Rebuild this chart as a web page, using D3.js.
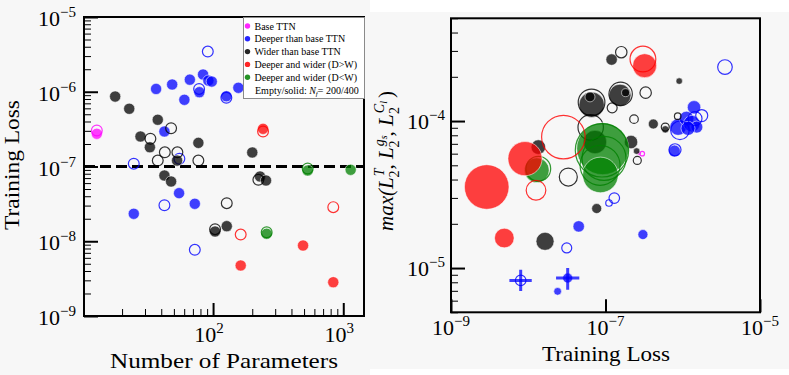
<!DOCTYPE html>
<html>
<head>
<meta charset="utf-8">
<script src="https://cdn.jsdelivr.net/npm/d3@7"></script>
<style>
  body { margin: 0; background: #fff; }
  svg text { font-family: "Liberation Serif", "Times New Roman", serif; fill: #000; }
</style>
</head>
<body>
<svg id="chart" width="789" height="375"></svg>
<script>
// ---- Left panel data: [number of parameters, training loss] ----
const baseSolidL = [[12.8, 2.74e-7]];
const baseEmptyL = [[12.8, 3.03e-7]];
const deeperSolidL = [[36.5, 1.09e-6], [48.5, 1.25e-6], [66.3, 1.45e-6], [60.2, 7.8e-7], [83.8, 1.70e-6],
  [92.0, 1.41e-6], [97.7, 1.37e-6], [78.5, 9.86e-7], [126.5, 8.71e-7], [156.4, 1.13e-6],
  [42.3, 2.94e-7], [54.8, 4.4e-8], [72.4, 3.17e-8], [24.6, 2.33e-8]];
const deeperEmptyL = [[91.1, 3.45e-6], [78.1, 1.09e-6], [126.5, 8.3e-7], [24.6, 1.09e-7], [55.1, 1.27e-7],
  [42.3, 3.03e-8], [72.4, 7.69e-9]];
const widerSolidL = [[17.7, 8.63e-7], [22.7, 5.92e-7], [37.6, 4.22e-7], [27.7, 2.52e-7], [32.7, 1.81e-7],
  [52.9, 1.2e-7], [77.1, 2.07e-7], [42.3, 7.58e-8], [47.6, 6.3e-8], [200, 1.54e-7],
  [103.6, 1.35e-8], [127.4, 1.59e-8], [229.5, 7.35e-8], [255, 6.5e-8]];
const widerEmptyL = [[47.6, 3.25e-7], [33.0, 2.35e-7], [42.6, 1.55e-7], [37.6, 1.2e-7], [53.2, 1.55e-7],
  [77.1, 1.2e-7], [127.4, 3.23e-8], [103.6, 1.45e-8], [222.8, 6.64e-8]];
const dwSolidL = [[242, 3.19e-7], [491, 8.77e-9], [163, 4.74e-9], [838, 2.83e-9]];
const dwEmptyL = [[242, 2.94e-7], [163, 1.23e-8], [838, 2.86e-8]];
const wdSolidL = [[533, 8.84e-8], [1140, 9.04e-8], [258, 1.26e-8]];
const wdEmptyL = [[533, 9.4e-8], [258, 1.32e-8]];

// ---- Right panel data: [training loss, max L2, number of parameters] ----
const baseSolidR = [[2.72e-7, 6.05e-5, 7]];
const baseEmptyR = [[2.99e-7, 6.0e-5, 9]];
const deeperSolidR = [[7.8e-7, 6.25e-5, 60], [8.7e-7, 9.1e-5, 116], [1.12e-6, 1.04e-4, 90],
  [1.31e-6, 9.6e-5, 116], [1.4e-6, 1.24e-4, 76], [1.52e-6, 9.1e-5, 61], [1.17e-6, 8.92e-5, 83],
  [4.5e-8, 1.92e-5, 55], [3.05e-7, 1.69e-5, 42], [2.4e-8, 6.94e-6, 25], [3.24e-8, 8.55e-6, 42]];
const deeperEmptyR = [[1.76e-6, 1.09e-4, 61], [9.2e-7, 8.65e-5, 146], [7.94e-7, 6.38e-5, 61],
  [1.44e-6, 1.04e-4, 83], [3.52e-6, 2.33e-4, 90], [1.3e-7, 2.99e-5, 47], [1.11e-7, 2.77e-5, 18],
  [3.15e-8, 1.37e-5, 42], [7.98e-9, 8.24e-6, 47]];
const widerSolidR = [[1.2e-7, 2.62e-4, 55], [6.62e-8, 1.29e-4, 272], [6.3e-8, 1.46e-4, 42],
  [1.54e-7, 1.5e-4, 204], [1.82e-7, 1.56e-4, 27], [4.16e-7, 9.55e-5, 42], [5.94e-7, 8.78e-5, 23],
  [9.0e-7, 1.87e-4, 18], [2.14e-7, 7.2e-5, 76], [2.53e-7, 6.25e-5, 18], [1.35e-8, 6.65e-5, 90],
  [7.69e-8, 2.54e-5, 42], [1.65e-8, 1.52e-5, 137], [7.31e-8, 7.2e-5, 231]];
const widerEmptyR = [[1.6e-7, 2.94e-4, 55], [6.6e-8, 1.34e-4, 300], [6.43e-8, 9.06e-5, 272],
  [1.57e-7, 1.53e-4, 231], [3.31e-7, 1.56e-4, 55], [1.22e-7, 1.23e-4, 42], [2.34e-7, 1.03e-4, 31],
  [5.94e-7, 9.1e-5, 27], [8.6e-7, 1.08e-4, 18], [2.58e-7, 5.4e-5, 27], [3.3e-8, 4.16e-5, 137]];
const dwSolidR = [[2.9e-9, 3.56e-5, 838], [9.08e-9, 5.55e-5, 491], [4.9e-9, 1.6e-5, 163], [3.21e-7, 2.38e-4, 242]];
const dwEmptyR = [[2.85e-8, 7.78e-5, 800], [1.26e-8, 3.38e-5, 163], [3.05e-7, 2.64e-4, 280]];
const wdSolidR = [[9.2e-8, 6.49e-5, 1140], [8.6e-8, 4.3e-5, 533], [1.29e-8, 4.63e-5, 258]];
const wdEmptyR = [[9.0e-8, 6.32e-5, 1200], [8.5e-8, 5.0e-5, 675], [9.57e-8, 5.57e-5, 816], [1.35e-8, 4.74e-5, 258]];

// Error bars (blue, right panel): centre, loss range, maxL2 range.
const crossCenter = [[7.98e-9, 8.24e-6], [3.24e-8, 8.55e-6]];
const crossLoss = [[5.7e-9, 1.11e-8], [2.29e-8, 4.58e-8]];
const crossMaxL = [[6.98e-6, 9.75e-6], [7.13e-6, 1.0e-5]];

const legendLabels = ['Base TTN', 'Deeper than base TTN', 'Wider than base TTN',
  'Deeper and wider (D>W)', 'Deeper and wider (D<W)'];
const groupColors = ['#ff00ff', '#0000ff', '#000000', '#ff0000', '#008000'];

const leftYTicks = [1e-5, 1e-6, 1e-7, 1e-8, 1e-9];
const leftXTicks = [1e2, 1e3];
const rightXTicks = [1e-9, 1e-7, 1e-5];
const rightYTicks = [1e-4, 1e-5];
const threshold = 1e-7;

// Groups in legend order; right panel draws green before red.
const groups = [
  {c: groupColors[0], ls: baseSolidL, le: baseEmptyL, rs: baseSolidR, re: baseEmptyR},
  {c: groupColors[1], ls: deeperSolidL, le: deeperEmptyL, rs: deeperSolidR, re: deeperEmptyR},
  {c: groupColors[2], ls: widerSolidL, le: widerEmptyL, rs: widerSolidR, re: widerEmptyR},
  {c: groupColors[3], ls: dwSolidL, le: dwEmptyL, rs: dwSolidR, re: dwEmptyR},
  {c: groupColors[4], ls: wdSolidL, le: wdEmptyL, rs: wdSolidR, re: wdEmptyR}
];

const svg = d3.select('#chart');

// Backgrounds.
svg.append('rect').attr('width', 789).attr('height', 375).attr('fill', '#f7f7f7');
svg.append('rect').attr('x', 370).attr('y', 0).attr('width', 419).attr('height', 12).attr('fill', '#fff');
svg.append('rect').attr('x', 370).attr('y', 369).attr('width', 419).attr('height', 6).attr('fill', '#fff');

// Scales.
const xL = d3.scaleLog().domain([10.2, 1443]).range([84, 364]);
const yL = d3.scaleLog().domain([1e-9, 1e-5]).range([316, 17]);
const xR = d3.scaleLog().domain([1e-9, 1e-5]).range([451, 760]);
const yR = d3.scaleLog().domain([5e-6, 5e-4]).range([312.3, 18.3]);
const rR = d3.scaleSqrt().domain([0, 1000]).range([0, 24.35]);

const isPow = v => Math.abs(Math.log10(v) - Math.round(Math.log10(v))) < 1e-6;

function tickLines(g, axis, values, len, w) {
  g.call(axis.tickValues(values).tickSize(-len).tickFormat(''))
    .call(s => s.select('.domain').remove())
    .selectAll('line').attr('stroke', '#000').attr('stroke-width', w);
}

function powLabel(g, x, y, v, anchor) {
  const e = Math.round(Math.log10(v));
  const t = g.append('text').attr('x', x).attr('y', y)
    .attr('text-anchor', anchor).attr('font-size', 22);
  t.append('tspan').text('10');
  t.append('tspan').attr('font-size', 15).attr('dy', -9)
    .text(e < 0 ? '\u2212' + (-e) : String(e));
}

function solid(g, data, fx, fy, fr, color) {
  g.selectAll(null).data(data).join('circle')
    .attr('cx', d => fx(d)).attr('cy', d => fy(d)).attr('r', d => fr(d))
    .attr('fill', color).attr('fill-opacity', 0.75)
    .attr('stroke', '#fff').attr('stroke-width', 0.7).attr('stroke-opacity', 0.8);
}

function empty(g, data, fx, fy, fr, color) {
  g.selectAll(null).data(data).join('circle')
    .attr('cx', d => fx(d)).attr('cy', d => fy(d)).attr('r', d => fr(d))
    .attr('fill', 'none').attr('stroke', color).attr('stroke-opacity', 0.8)
    .attr('stroke-width', 1.2);
}

// ================= Left panel =================
const left = svg.append('g');

// Threshold line.
left.append('line')
  .attr('x1', xL.range()[0]).attr('x2', xL.range()[1])
  .attr('y1', yL(threshold)).attr('y2', yL(threshold))
  .attr('stroke', '#000').attr('stroke-width', 3).attr('stroke-dasharray', '11,5');

const ptsL = left.append('g');
groups.forEach(gr => {
  solid(ptsL, gr.ls, d => xL(d[0]), d => yL(d[1]), () => 5.6, gr.c);
  empty(ptsL, gr.le, d => xL(d[0]), d => yL(d[1]), () => 5.4, gr.c);
});

// Ticks (inward).
tickLines(left.append('g').attr('transform', `translate(${xL.range()[0]},0)`),
  d3.axisLeft(yL), yL.ticks().filter(v => !isPow(v)), 7, 1);
tickLines(left.append('g').attr('transform', `translate(${xL.range()[0]},0)`),
  d3.axisLeft(yL), leftYTicks, 14, 2);
tickLines(left.append('g').attr('transform', `translate(0,${yL.range()[0]})`),
  d3.axisBottom(xL), xL.ticks().filter(v => !isPow(v)), 7, 1);
tickLines(left.append('g').attr('transform', `translate(0,${yL.range()[0]})`),
  d3.axisBottom(xL), leftXTicks, 13, 2);

left.append('rect')
  .attr('x', xL.range()[0]).attr('y', yL.range()[1])
  .attr('width', xL.range()[1] - xL.range()[0]).attr('height', yL.range()[0] - yL.range()[1])
  .attr('fill', 'none').attr('stroke', '#000').attr('stroke-width', 2);

leftYTicks.forEach(v => powLabel(left, 76, yL(v) + 9, v, 'end'));
leftXTicks.forEach(v => powLabel(left, xL(v) - 4, 342, v, 'middle'));

left.append('text').attr('x', 224).attr('y', 368).attr('text-anchor', 'middle')
  .attr('font-size', 22).attr('textLength', 228).attr('lengthAdjust', 'spacingAndGlyphs')
  .text('Number of Parameters');
left.append('text').attr('transform', 'translate(19,165) rotate(-90)').attr('text-anchor', 'middle')
  .attr('font-size', 21).attr('textLength', 130).attr('lengthAdjust', 'spacingAndGlyphs')
  .text('Training Loss');

// Legend.
const leg = left.append('g');
leg.append('rect').attr('x', 243.5).attr('y', 17.5).attr('width', 121).attr('height', 81)
  .attr('fill', '#fff').attr('stroke', '#8a8a8a').attr('stroke-width', 1);
legendLabels.forEach((lab, i) => {
  const cy = 26 + i * 12.8;
  leg.append('circle').attr('cx', 247.5).attr('cy', cy).attr('r', 2.7)
    .attr('fill', groupColors[i]).attr('fill-opacity', 0.85);
  leg.append('text').attr('x', 254.5).attr('y', cy + 3.5).attr('font-size', 10).text(lab);
});
const note = leg.append('text').attr('x', 255).attr('y', 26 + 5 * 12.8 + 3.5).attr('font-size', 10);
note.append('tspan').text('Empty/solid: ');
note.append('tspan').attr('font-style', 'italic').text('N');
note.append('tspan').attr('font-style', 'italic').attr('font-size', 7).attr('dy', 2).text('f');
note.append('tspan').attr('dy', -2).text('= 200/400');

// ================= Right panel =================
const right = svg.append('g');
right.append('clipPath').attr('id', 'clipR').append('rect')
  .attr('x', xR.range()[0]).attr('y', yR.range()[1])
  .attr('width', xR.range()[1] - xR.range()[0]).attr('height', yR.range()[0] - yR.range()[1]);

const ptsR = right.append('g').attr('clip-path', 'url(#clipR)');
[0, 1, 2, 4, 3].forEach(i => {
  const gr = groups[i];
  solid(ptsR, gr.rs, d => xR(d[0]), d => yR(d[1]), d => rR(d[2]), gr.c);
  empty(ptsR, gr.re, d => xR(d[0]), d => yR(d[1]), d => rR(d[2]), gr.c);
});

// Error bars.
crossCenter.forEach((c, i) => {
  ptsR.append('line')
    .attr('x1', xR(crossLoss[i][0])).attr('x2', xR(crossLoss[i][1]))
    .attr('y1', yR(c[1])).attr('y2', yR(c[1]))
    .attr('stroke', '#0000ff').attr('stroke-opacity', 0.75).attr('stroke-width', 3);
  ptsR.append('line')
    .attr('x1', xR(c[0])).attr('x2', xR(c[0]))
    .attr('y1', yR(crossMaxL[i][0])).attr('y2', yR(crossMaxL[i][1]))
    .attr('stroke', '#0000ff').attr('stroke-opacity', 0.75).attr('stroke-width', 3);
});

tickLines(right.append('g').attr('transform', `translate(${xR.range()[0]},0)`),
  d3.axisLeft(yR), yR.ticks().filter(v => !isPow(v)), 7, 1);
tickLines(right.append('g').attr('transform', `translate(${xR.range()[0]},0)`),
  d3.axisLeft(yR), rightYTicks, 14, 2);
tickLines(right.append('g').attr('transform', `translate(0,${yR.range()[0]})`),
  d3.axisBottom(xR), rightXTicks, 13, 2);

right.append('rect')
  .attr('x', xR.range()[0]).attr('y', yR.range()[1])
  .attr('width', xR.range()[1] - xR.range()[0]).attr('height', yR.range()[0] - yR.range()[1])
  .attr('fill', 'none').attr('stroke', '#000').attr('stroke-width', 2);

rightYTicks.forEach(v => powLabel(right, 445, yR(v) + 8, v, 'end'));
rightXTicks.forEach(v => powLabel(right, xR(v), 335, v, 'middle'));

right.append('text').attr('x', 606).attr('y', 361).attr('text-anchor', 'middle')
  .attr('font-size', 22).attr('textLength', 128).attr('lengthAdjust', 'spacingAndGlyphs')
  .text('Training Loss');

// Y label: max(L_2^T, L_2^{g_s}, L_2^{C_l})  -- [text, size, baseline offset, italic, dx]
const yLabelParts = [
  ['max(', 21, 0, true, 0], ['L', 21, 0, true, 0], ['T', 14, -9, true, 1], ['2', 14, 6, false, -9],
  [', ', 21, 0, false, 1], ['L', 21, 0, true, 0], ['g', 14, -9, true, 1], ['s', 10, -6, true, 0],
  ['2', 14, 6, false, -12], [', ', 21, 0, false, 4], ['L', 21, 0, true, 0], ['C', 14, -9, true, 1],
  ['l', 10, -6, true, 0], ['2', 14, 6, false, -13], [')', 21, 0, false, 9]
];
const yl = right.append('text').attr('transform', 'translate(393,161) rotate(-90)')
  .attr('text-anchor', 'middle');
let prev = 0;
yLabelParts.forEach(p => {
  yl.append('tspan').attr('font-size', p[1]).attr('font-style', p[3] ? 'italic' : 'normal')
    .attr('dy', p[2] - prev).attr('dx', p[4]).text(p[0]);
  prev = p[2];
});
</script>
</body>
</html>
